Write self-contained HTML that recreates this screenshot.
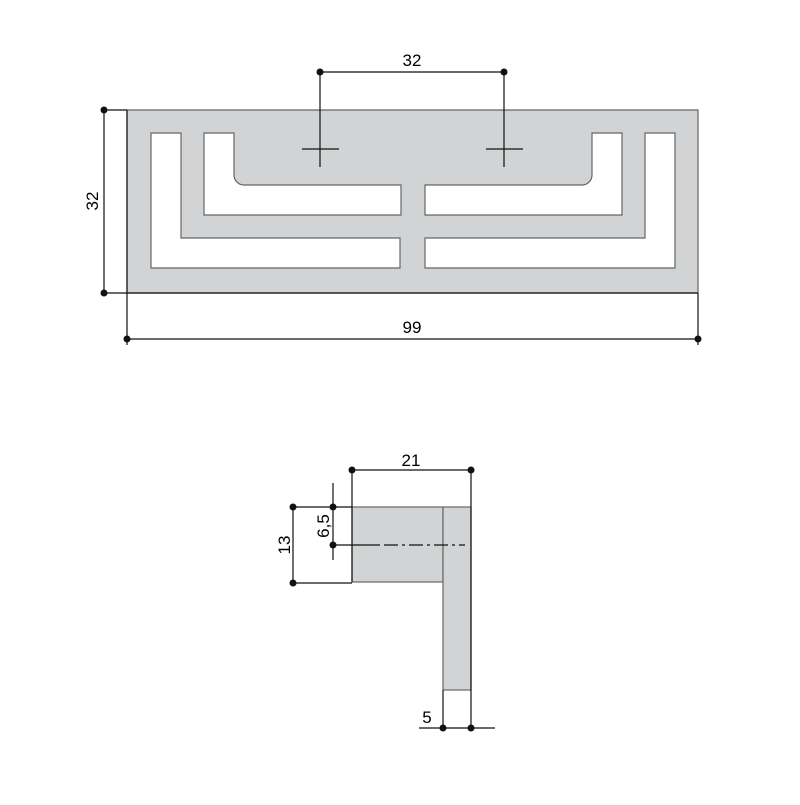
<!DOCTYPE html>
<html><head><meta charset="utf-8"><style>body{margin:0;background:#fff}</style></head><body>
<svg width="800" height="800" viewBox="0 0 800 800" xmlns="http://www.w3.org/2000/svg" font-family="Liberation Sans, sans-serif" font-size="17">
<rect x="0" y="0" width="800" height="800" fill="#fff"/>
<path fill-rule="evenodd" fill="#d2d3d5" stroke="#666" stroke-width="1.2" d="M127,110 H698 V293 H127 Z
M151,133 H181 V238 H400 V268 H151 Z
M204,133 H234 V175 A10,10 0 0 0 244,185 H401 V215 H204 Z
M675,133 H645 V238 H425 V268 H675 Z
M622,133 H592 V175 A10,10 0 0 1 582,185 H425 V215 H622 Z"/>
<g stroke="#111" stroke-width="1.2" fill="none">
<line x1="127" y1="293" x2="698" y2="293"/>
<line x1="127" y1="110" x2="127" y2="345"/>
<line x1="698" y1="293" x2="698" y2="345"/>
<line x1="127" y1="339" x2="698" y2="339"/>
<line x1="104" y1="110" x2="127" y2="110"/>
<line x1="104" y1="293" x2="127" y2="293"/>
<line x1="104" y1="110" x2="104" y2="293"/>
<line x1="320" y1="72" x2="504" y2="72"/>
<line x1="320" y1="72" x2="320" y2="167"/>
<line x1="504" y1="72" x2="504" y2="167"/>
<line x1="302" y1="149" x2="339" y2="149"/>
<line x1="486" y1="149" x2="523" y2="149"/>
</g>
<g fill="#111">
<circle cx="127" cy="339" r="3.5"/><circle cx="698" cy="339" r="3.5"/>
<circle cx="104" cy="110" r="3.5"/><circle cx="104" cy="293" r="3.5"/>
<circle cx="320" cy="72" r="3.5"/><circle cx="504" cy="72" r="3.5"/>
</g>
<text x="412" y="66" text-anchor="middle">32</text>
<text x="412" y="333" text-anchor="middle">99</text>
<text transform="translate(98,201) rotate(-90)" text-anchor="middle">32</text>

<rect x="352" y="507" width="91" height="75" fill="#d2d3d5" stroke="#666" stroke-width="1.2"/>
<rect x="443" y="507" width="28" height="183" fill="#d2d3d5" stroke="#666" stroke-width="1.2"/>
<g stroke="#111" stroke-width="1.2" fill="none">
<line x1="352" y1="470" x2="471" y2="470"/>
<line x1="352" y1="470" x2="352" y2="582"/>
<line x1="471" y1="470" x2="471" y2="728"/>
<line x1="293" y1="507" x2="352" y2="507"/>
<line x1="293" y1="583" x2="352" y2="583"/>
<line x1="293" y1="507" x2="293" y2="583"/>
<line x1="333" y1="483" x2="333" y2="560"/>
<line x1="333" y1="545" x2="380" y2="545"/>
<line x1="384" y1="545" x2="465" y2="545" stroke-dasharray="14,4,3,4"/>
<line x1="443" y1="690" x2="443" y2="728"/>
<line x1="419" y1="728" x2="495" y2="728"/>
</g>
<g fill="#111">
<circle cx="352" cy="470" r="3.5"/><circle cx="471" cy="470" r="3.5"/>
<circle cx="293" cy="507" r="3.5"/><circle cx="293" cy="583" r="3.5"/>
<circle cx="333" cy="507" r="3.5"/><circle cx="333" cy="545" r="3.5"/>
<circle cx="443" cy="728" r="3.5"/><circle cx="471" cy="728" r="3.5"/>
</g>
<text x="411" y="466" text-anchor="middle">21</text>
<text x="427" y="723" text-anchor="middle">5</text>
<text transform="translate(290,545) rotate(-90)" text-anchor="middle">13</text>
<text transform="translate(329,526) rotate(-90)" text-anchor="middle">6,5</text>
</svg>
</body></html>
